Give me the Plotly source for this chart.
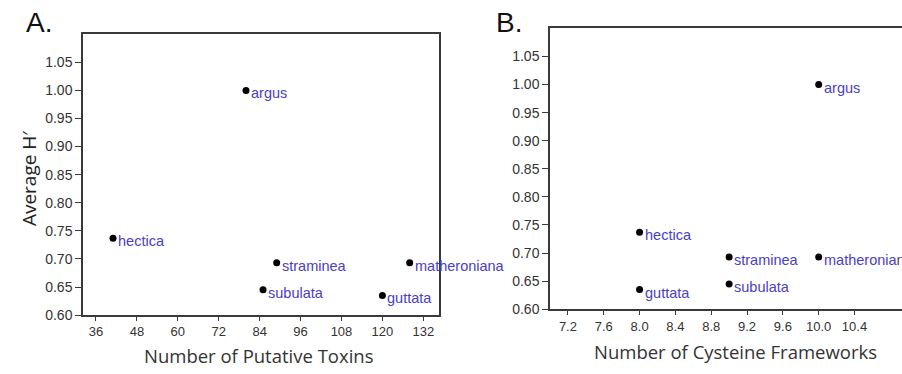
import plotly.graph_objects as go

species = ["argus", "hectica", "straminea", "subulata", "guttata", "matheroniana"]
avg_h = [1.000, 0.737, 0.693, 0.645, 0.635, 0.693]
putative_toxins = [80, 41, 89, 85, 120, 128]
cys_frameworks = [10.0, 8.0, 9.0, 9.0, 8.0, 10.0]

ticks_a = [36, 48, 60, 72, 84, 96, 108, 120, 132]
ticks_b = [7.2, 7.6, 8.0, 8.4, 8.8, 9.2, 9.6, 10.0, 10.4]
ticks_y = [0.60, 0.65, 0.70, 0.75, 0.80, 0.85, 0.90, 0.95, 1.00, 1.05]

W, H = 902, 374
LABEL_COLOR = "#4a40c4"
AXIS_COLOR = "#3a3a3a"
XTICK_FONT = dict(family="Liberation Sans, Arial", size=13, color="#333333")
YTICK_FONT = dict(family="Liberation Sans, Arial", size=14, color="#333333")

fig = go.Figure()
fig.add_trace(go.Scatter(x=putative_toxins, y=avg_h, mode="markers",
                         marker=dict(color="black", size=7), xaxis="x", yaxis="y",
                         hoverinfo="text", text=species))
fig.add_trace(go.Scatter(x=cys_frameworks, y=avg_h, mode="markers",
                         marker=dict(color="black", size=7), xaxis="x2", yaxis="y2",
                         hoverinfo="text", text=species))

annotations = []
for xa, ya, xs in (("x", "y", putative_toxins), ("x2", "y2", cys_frameworks)):
    for name, xv, yv in zip(species, xs, avg_h):
        annotations.append(dict(x=xv, y=yv, xref=xa, yref=ya, text=name, showarrow=False,
                                xanchor="left", yanchor="middle", xshift=3, yshift=-3,
                                font=dict(family="Liberation Sans, Arial", size=14.5, color=LABEL_COLOR)))

# panel letters and axis titles
annotations += [
    dict(x=24 / W, y=1 - 23 / H, xref="paper", yref="paper", text="A.", showarrow=False,
         xanchor="left", yanchor="middle", font=dict(family="Liberation Sans, Arial", size=28, color="#111")),
    dict(x=494 / W, y=1 - 23 / H, xref="paper", yref="paper", text="B.", showarrow=False,
         xanchor="left", yanchor="middle", font=dict(family="Liberation Sans, Arial", size=28, color="#111")),
    dict(x=259 / W, y=1 - 363 / H, xref="paper", yref="paper", text="Number of Putative Toxins",
         showarrow=False, xanchor="center", yanchor="middle",
         font=dict(family="Open Sans", size=18.5, color="#333")),
    dict(x=735 / W, y=1 - 359 / H, xref="paper", yref="paper", text="Number of Cysteine Frameworks",
         showarrow=False, xanchor="center", yanchor="middle",
         font=dict(family="Open Sans", size=18.5, color="#333")),
    dict(x=29 / W, y=1 - 183 / H, xref="paper", yref="paper", text="Average H\u2032",
         showarrow=False, xanchor="center", yanchor="middle", textangle=-90,
         font=dict(family="Open Sans", size=19, color="#222")),
]

common_x = dict(showgrid=False, zeroline=False, showline=True, linecolor=AXIS_COLOR, linewidth=1.5,
                mirror=True, ticks="outside", ticklen=4, tickwidth=1, tickcolor=AXIS_COLOR,
                tickfont=XTICK_FONT)
common_y = dict(showgrid=False, zeroline=False, showline=True, linecolor=AXIS_COLOR, linewidth=1.5,
                ticks="outside", ticklen=6, tickwidth=1, tickcolor=AXIS_COLOR,
                tickfont=YTICK_FONT, range=[0.60, 1.10], tickvals=ticks_y,
                ticktext=[f"{v:.2f}" for v in ticks_y])

fig.update_layout(
    width=W, height=H, margin=dict(l=0, r=0, t=0, b=0),
    paper_bgcolor="white", plot_bgcolor="white", showlegend=False,
    xaxis=dict(common_x, domain=[83 / W, 439 / W], range=[32.2, 136.6], tickvals=ticks_a,
               anchor="y"),
    yaxis=dict(common_y, domain=[1 - 322 / H, 1 - 35 / H], anchor="x", mirror=True),
    xaxis2=dict(common_x, domain=[550 / W, 1.0], range=[7.0, 10.93], tickvals=ticks_b,
                ticktext=[f"{v:.1f}" for v in ticks_b], anchor="y2"),
    yaxis2=dict(common_y, domain=[1 - 316 / H, 1 - 29 / H], anchor="x2", mirror=False),
    annotations=annotations,
)

fig.write_html("out.html", config={"displayModeBar": False},
               post_script="document.body.style.margin='0';document.body.style.overflow='hidden';")
